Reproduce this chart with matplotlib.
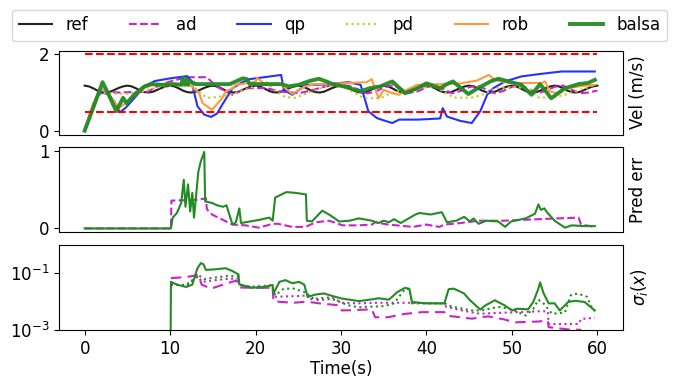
import numpy as np
import matplotlib
matplotlib.use("Agg")
import matplotlib.pyplot as plt

# ---------------- data ----------------
# reference velocity, sampled every 0.5 s from 0 to 60
t_ref = [i * 0.5 for i in range(121)]
v_ref = [1.18, 1.16, 1.11, 1.05, 1.01, 1.00, 1.02, 1.07, 1.12, 1.16,
         1.18, 1.16, 1.11, 1.05, 1.01, 1.00, 1.02, 1.07, 1.12, 1.16,
         1.18, 1.16, 1.11, 1.05, 1.01, 1.00, 1.02, 1.07, 1.12, 1.16,
         1.18, 1.16, 1.11, 1.05, 1.01, 1.00, 1.02, 1.07, 1.12, 1.16,
         1.18, 1.16, 1.11, 1.05, 1.01, 1.00, 1.02, 1.07, 1.12, 1.16,
         1.18, 1.16, 1.11, 1.05, 1.01, 1.00, 1.02, 1.07, 1.12, 1.16,
         1.18, 1.16, 1.11, 1.05, 1.01, 1.00, 1.02, 1.07, 1.12, 1.16,
         1.18, 1.16, 1.11, 1.05, 1.01, 1.00, 1.02, 1.07, 1.12, 1.16,
         1.18, 1.16, 1.11, 1.05, 1.01, 1.00, 1.02, 1.07, 1.12, 1.16,
         1.18, 1.16, 1.11, 1.05, 1.01, 1.00, 1.02, 1.07, 1.12, 1.16,
         1.18, 1.16, 1.11, 1.05, 1.01, 1.00, 1.02, 1.07, 1.12, 1.16,
         1.18, 1.16, 1.11, 1.05, 1.01, 1.00, 1.02, 1.07, 1.12, 1.16,
         1.18]

t_ad = [0, 1, 1.7, 4, 7.4, 8.8, 10.5, 11.9, 14.3, 15.4, 17.3, 18.9, 21.2, 22.8,
        25.1, 26.6, 28.2, 29.5, 30, 31, 32, 33, 34, 35, 36, 37, 38, 39, 40, 41,
        42, 43, 44, 45, 46, 47, 48, 49, 50, 51, 52, 53, 54, 55, 56, 57, 58, 59, 60]
v_ad = [0, 0.7, 1.02, 1.0, 1.02, 1.2, 1.32, 1.4, 1.4, 1.16, 0.94, 1.11, 1.12, 1.03,
        0.98, 1.06, 1.16, 1.2, 1.2, 1.17, 1.08, 0.98, 1.02, 1.13, 1.19, 1.1, 0.99,
        1.03, 1.14, 1.19, 1.09, 0.98, 1.04, 1.14, 1.18, 1.08, 0.98, 1.04, 1.15,
        1.19, 1.09, 0.98, 1.05, 1.15, 1.18, 1.07, 0.98, 1.0, 1.05]

t_qp = [0, 1, 1.5, 2, 2.8, 3.5, 4.1, 4.8, 5.8, 7, 8.2, 10, 12, 12.5, 13.2, 14,
        14.8, 15.5, 16.1, 17.3, 18.3, 19.3, 21, 23, 23.3, 24.3, 25.9, 28, 30.9,
        32.3, 33.2, 34.2, 35, 36, 36.8, 39, 41.6, 41.9, 42.4, 43.9, 45.3, 46.3,
        47.1, 47.8, 49.2, 51.1, 53.1, 55.8, 59.7]
v_qp = [0, 0.6, 0.9, 1.0, 0.95, 0.75, 0.48, 0.6, 0.85, 1.16, 1.30, 1.37, 1.43,
        1.3, 0.64, 0.42, 0.36, 0.45, 0.68, 1.11, 1.25, 1.35, 1.40, 1.46, 1.07,
        0.94, 1.2, 1.21, 1.27, 1.2, 0.51, 0.33, 0.27, 0.2, 0.29, 0.29, 0.32,
        0.59, 0.37, 0.26, 0.2, 0.51, 0.94, 1.11, 1.29, 1.42, 1.48, 1.55, 1.55]

t_pd = [0, 1, 1.8, 3, 5, 6.5, 7.5, 9, 11, 12.6, 13.5, 14.3, 15, 16.4, 17.3,
        18.5, 19.3, 21.2, 22.4, 23.5, 24.6, 25.6, 26.6, 28.1, 30, 31.5, 32.7,
        34.6, 35.6, 37, 39, 41, 43.2, 45.1, 46.3, 47.1, 48, 50, 52, 53.1, 54.6,
        56.2, 57.4, 58.6, 59.7]
v_pd = [0, 0.6, 0.98, 0.97, 0.97, 1.0, 1.08, 1.15, 1.2, 1.2, 1.0, 0.86, 0.87,
        0.91, 0.96, 1.05, 1.11, 1.29, 1.03, 0.88, 0.86, 0.94, 1.03, 1.15, 1.2,
        1.0, 0.85, 0.85, 0.96, 1.05, 1.12, 1.15, 0.87, 0.86, 0.92, 1.0, 1.1,
        1.15, 1.1, 0.87, 0.86, 0.94, 1.03, 1.11, 1.2]

t_rob = [0, 1, 2, 3, 4, 5, 6, 7, 8, 10, 12, 12.6, 13.4, 13.8, 14.9, 16.1, 16.5,
         17.3, 17.7, 19.5, 20, 20.2, 21.2, 23, 23.5, 24.3, 25.8, 27, 30, 33,
         33.6, 34.4, 35, 36, 36.8, 37.7, 38.9, 42, 44, 45.9, 47.3, 48, 49.6,
         53.5, 53.9, 54.4, 55.3, 56.5, 58.1, 59.7]
v_rob = [0, 0.7, 1.1, 0.9, 0.6, 0.75, 0.95, 1.12, 1.2, 1.22, 1.22, 1.15, 0.98,
         0.72, 0.55, 0.85, 1.03, 1.11, 1.2, 1.26, 1.29, 1.38, 1.2, 1.2, 1.11,
         0.96, 1.16, 1.22, 1.24, 1.27, 1.35, 0.85, 1.07, 0.98, 0.94, 1.07, 1.2,
         1.22, 1.24, 1.31, 1.46, 1.33, 1.25, 1.25, 1.29, 1.03, 0.98, 1.11, 1.17,
         1.2]

t_balsa = [0, 1, 2.1, 2.9, 3.7, 4.5, 4.9, 5.8, 7, 7.8, 9, 10.5, 11.3, 11.5,
           11.7, 11.9, 12.1, 12.3, 13, 15, 17, 18.5, 19.0, 19.3, 21, 23, 23.9,
           25, 26.3, 27.4, 28.4, 29, 30.3, 32.3, 33.3, 34.6, 36, 37.5, 38.9, 40,
           41.6, 42.4, 43.1, 44.9, 46, 47.5, 48.4, 49.6, 51.1, 52.3, 53.3, 54.6,
           56.2, 57.8, 58.9, 59.7]
v_balsa = [0, 0.6, 1.27, 0.9, 0.51, 0.86, 0.72, 0.94, 1.16, 1.22, 1.2, 1.22,
           1.2, 1.38, 1.2, 1.36, 1.2, 1.3, 1.22, 1.22, 1.22, 1.37, 1.35, 1.22,
           1.22, 1.22, 1.16, 1.2, 1.3, 1.36, 1.28, 1.22, 1.16, 1.03, 1.11, 1.16,
           1.29, 0.98, 1.11, 1.24, 1.11, 1.22, 1.29, 0.96, 1.11, 1.29, 1.36,
           1.29, 1.2, 0.94, 1.22, 0.85, 1.11, 1.22, 1.25, 1.33]

vel_limits = [0.5, 2.0]

# prediction error
t_pe_balsa = [0, 10.1, 10.3, 10.8, 11.3, 11.6, 11.8, 12.1, 12.35, 12.6, 12.8,
              13.3, 13.6, 14.0, 14.1, 14.9, 15.5, 16.2, 16.6, 17.3, 17.7, 18.1,
              18.3, 20.4, 21.6, 22.0, 22.3, 23.6, 24.7, 25.9, 26.0, 26.6, 27.8,
              28.6, 29.8, 31, 32.1, 33.6, 34.4, 35, 35.6, 36.2, 37, 38.7, 39.2,
              40.5, 41.8, 42.4, 43.5, 44.4, 45.1, 45.5, 46.1, 47, 48.4, 49.2,
              49.9, 51.6, 52.7, 53.1, 53.4, 53.8, 54.1, 55, 56.2, 57, 58.5, 59.7]
pe_balsa = [0, 0, 0.14, 0.2, 0.33, 0.63, 0.28, 0.57, 0.22, 0.46, 0.14, 0.73,
            0.87, 0.99, 0.35, 0.33, 0.3, 0.28, 0.3, 0.05, 0.08, 0.26, 0.07, 0.11,
            0.14, 0.1, 0.4, 0.47, 0.46, 0.44, 0.1, 0.09, 0.23, 0.18, 0.09, 0.1,
            0.13, 0.1, 0.07, 0.1, 0.08, 0.12, 0.07, 0.18, 0.2, 0.18, 0.21, 0.08,
            0.1, 0.15, 0.09, 0.13, 0.06, 0.1, 0.09, 0.02, 0.09, 0.13, 0.19, 0.31,
            0.24, 0.26, 0.21, 0.1, 0.01, 0.04, 0.03, 0.03]

t_pe_ad = [0, 10.1, 10.15, 13.2, 14.2, 14.3, 14.9, 17.3, 18.8, 20.4, 22.0, 22.6,
           24.3, 25.8, 27.1, 28.6, 30.2, 32, 33.6, 34.0, 35.5, 38.4, 40, 41.5,
           42.1, 44, 46.1, 49, 53.1, 57.8, 58.1, 59.7]
pe_ad = [0, 0, 0.36, 0.37, 0.39, 0.25, 0.18, 0.05, 0.04, 0.01, 0.06, 0.06, 0.02,
         0.02, 0.08, 0.1, 0.04, 0.04, 0.05, 0.08, 0.05, 0.02, 0.05, 0.02, 0.05,
         0.07, 0.1, 0.1, 0.12, 0.14, 0.05, 0.02]

# sigma (stored as log10 of the value)
t_sig_balsa = [10.05, 10.1, 10.8, 11.9, 12.6, 13.2, 13.6, 13.9, 14.2, 15.2,
               16.5, 17.3, 18.0, 18.1, 19.6, 21, 22.0, 22.1, 22.8, 23.5, 24.3,
               25.1, 25.7, 26.1, 27.0, 28.0, 29, 30.1, 32.1, 33.6, 34.4, 35.6,
               36.6, 37.5, 38.0, 38.3, 39.9, 42.1, 42.6, 43.2, 44.4, 45.1, 46.3,
               46.8, 48, 49.2, 50, 50.6, 51.9, 52.5, 53.1, 53.3, 53.7, 54.3, 55,
               55.6, 56.6, 57.4, 58.5, 59.7]
lg_sig_balsa = [-4, -1.3, -1.4, -1.48, -1.4, -0.82, -0.64, -0.68, -0.88, -0.86,
                -0.82, -0.92, -1.04, -1.39, -1.51, -1.48, -1.41, -1.71, -1.3,
                -1.24, -1.35, -1.3, -1.4, -1.83, -1.75, -1.71, -1.8, -1.89,
                -1.98, -1.92, -1.88, -1.93, -1.66, -1.51, -1.55, -2.01, -2.06,
                -2.06, -1.56, -1.54, -1.71, -1.95, -2.28, -2.15, -1.95, -2.14,
                -2.31, -2.25, -2.27, -2.01, -1.54, -1.32, -1.7, -2.06, -2.06,
                -2.31, -2.01, -1.97, -2.01, -2.31]

t_sig_balsa2 = [10.1, 11.9, 13.3, 14.0, 16.5, 18.0, 18.1, 19.6, 22.0, 22.3, 23.3,
                24.5, 26.1, 26.3, 27.4, 28.9, 30.9, 32.1, 33, 35, 36.2, 37.5,
                38.0, 38.3, 42.1, 43.0, 45.3, 46.5, 48.4, 50, 51.6, 52.5, 53.1,
                53.7, 54.7, 56.2, 56.9, 57.7, 58.8, 59.3, 59.7]
lg_sig_balsa2 = [-1.37, -1.45, -1.06, -1.2, -1.1, -1.1, -1.4, -1.51, -1.51,
                 -1.78, -1.54, -1.54, -1.7, -1.83, -1.95, -1.9, -2.13, -2.2,
                 -2.18, -2.16, -2.06, -1.55, -1.55, -2.06, -2.06, -2.18, -2.31,
                 -2.31, -2.18, -2.27, -2.49, -2.25, -1.93, -2.06, -2.43, -2.38,
                 -1.77, -1.71, -1.83, -2.18, -2.33]

t_sig_ad2 = [10.1, 11.9, 13.3, 13.7, 14.8, 16.5, 18.0, 18.1, 19.6, 22.0, 22.1,
             25.1, 26.1, 26.2, 28.9, 30.1, 32, 34, 36, 38, 40, 42.1, 42.3, 44,
             46.3, 48, 50, 53.1, 54.2, 54.3, 57.8, 58.1, 59.7]
lg_sig_ad2 = [-1.42, -1.4, -1.1, -1.3, -1.26, -1.2, -1.18, -1.42, -1.47, -1.42,
              -1.83, -1.8, -1.78, -1.92, -1.84, -2.04, -2.06, -2.04, -2.04,
              -2.04, -2.05, -2.06, -2.18, -2.3, -2.43, -2.4, -2.38, -2.34,
              -2.34, -2.79, -2.79, -2.61, -2.57]

t_sig_ad = [10.1, 11.9, 13.3, 13.7, 14.8, 16.5, 17.8, 18.1, 19.6, 22.0, 22.1,
            24.4, 26, 27.5, 29.8, 30.1, 31.5, 33.6, 34.0, 35.5, 37.5, 39.5,
            42.1, 42.3, 45.3, 47.2, 49, 50.4, 53.1, 54.2, 54.3, 56.9, 58.0, 58.3]
lg_sig_ad = [-1.17, -1.13, -1.06, -1.4, -1.54, -1.37, -1.25, -1.5, -1.51, -1.51,
             -1.99, -2.04, -2.0, -2.06, -2.13, -2.31, -2.3, -2.27, -2.55, -2.55,
             -2.43, -2.37, -2.37, -2.49, -2.6, -2.52, -2.62, -2.73, -2.7, -2.67,
             -2.9, -2.99, -2.99, -3.3]

labels = ["ref", "ad", "qp", "pd", "rob", "balsa"]
x_ticks = [0, 10, 20, 30, 40, 50, 60]

# ---------------- style ----------------
plt.rcParams["font.family"] = ["DejaVu Sans"]
plt.rcParams["font.size"] = 12

c_ref = "#222222"
c_ad = "#cc22cc"
c_qp = "#2233ff"
c_pd = "#c2c81e"
c_rob = "#ff9a3c"
c_balsa = "#228b22"

fig = plt.figure(figsize=(6.77, 3.87), dpi=100)
L, W = 59 / 677, (623 - 59) / 677
ax1 = fig.add_axes([L, 1 - 134.5 / 387, W, 84 / 387])
ax2 = fig.add_axes([L, 1 - 232.3 / 387, W, 85 / 387], sharex=ax1)
ax3 = fig.add_axes([L, 1 - 330 / 387, W, 85 / 387], sharex=ax1)

# top: velocity
h_ref, = ax1.plot(t_ref, v_ref, color=c_ref, lw=1.5)
h_ad, = ax1.plot(t_ad, v_ad, color=c_ad, lw=1.5, ls="--")
h_qp, = ax1.plot(t_qp, v_qp, color=c_qp, lw=1.5)
h_pd, = ax1.plot(t_pd, v_pd, color=c_pd, lw=1.5, ls=":")
h_rob, = ax1.plot(t_rob, v_rob, color=c_rob, lw=1.5)
h_balsa, = ax1.plot(t_balsa, v_balsa, color=c_balsa, lw=2.8, alpha=0.95)
ax1.hlines(vel_limits, t_ref[0], t_ref[-1], colors="red", linestyles="--", lw=1.5)
ax1.set_ylim(-0.1, 2.1)
ax1.set_yticks([0, 2])
ax1.set_ylabel("Vel (m/s)")
ax1.yaxis.set_label_position("right")

# middle: prediction error
ax2.plot(t_pe_ad, pe_ad, color=c_ad, lw=1.5, ls="--")
ax2.plot(t_pe_balsa, pe_balsa, color=c_balsa, lw=1.5)
ax2.set_ylim(-0.05, 1.05)
ax2.set_yticks([0, 1])
ax2.set_ylabel("Pred err")
ax2.yaxis.set_label_position("right")

# bottom: sigma
ax3.plot(t_sig_ad, 10.0 ** np.array(lg_sig_ad), color=c_ad, lw=1.5, ls=(0, (5, 3)))
ax3.plot(t_sig_ad2, 10.0 ** np.array(lg_sig_ad2), color=c_ad, lw=1.5, ls=":")
ax3.plot(t_sig_balsa2, 10.0 ** np.array(lg_sig_balsa2), color=c_balsa, lw=1.5, ls=":")
ax3.plot(t_sig_balsa, 10.0 ** np.array(lg_sig_balsa), color=c_balsa, lw=1.5)
ax3.set_yscale("log")
ax3.set_ylim(1e-3, 1.0)
ax3.set_yticks([1e-3, 1e-1])
ax3.yaxis.set_minor_locator(matplotlib.ticker.NullLocator())
ax3.set_ylabel(r"$\sigma_i(x)$")
ax3.yaxis.set_label_position("right")
ax3.set_xlabel("Time(s)", labelpad=2)
ax3.set_xticks(x_ticks)
ax3.set_xlim(-3, 63)

for ax in (ax1, ax2):
    ax.tick_params(axis="x", bottom=False, labelbottom=False)

fig.legend([h_ref, h_ad, h_qp, h_pd, h_rob, h_balsa], labels,
           loc="lower left", ncol=6, mode="expand",
           bbox_to_anchor=(12 / 677, 1 - 41 / 387, 655 / 677, 33 / 387),
           borderaxespad=0, fontsize=12)

fig.savefig("out.png", dpi=100)
